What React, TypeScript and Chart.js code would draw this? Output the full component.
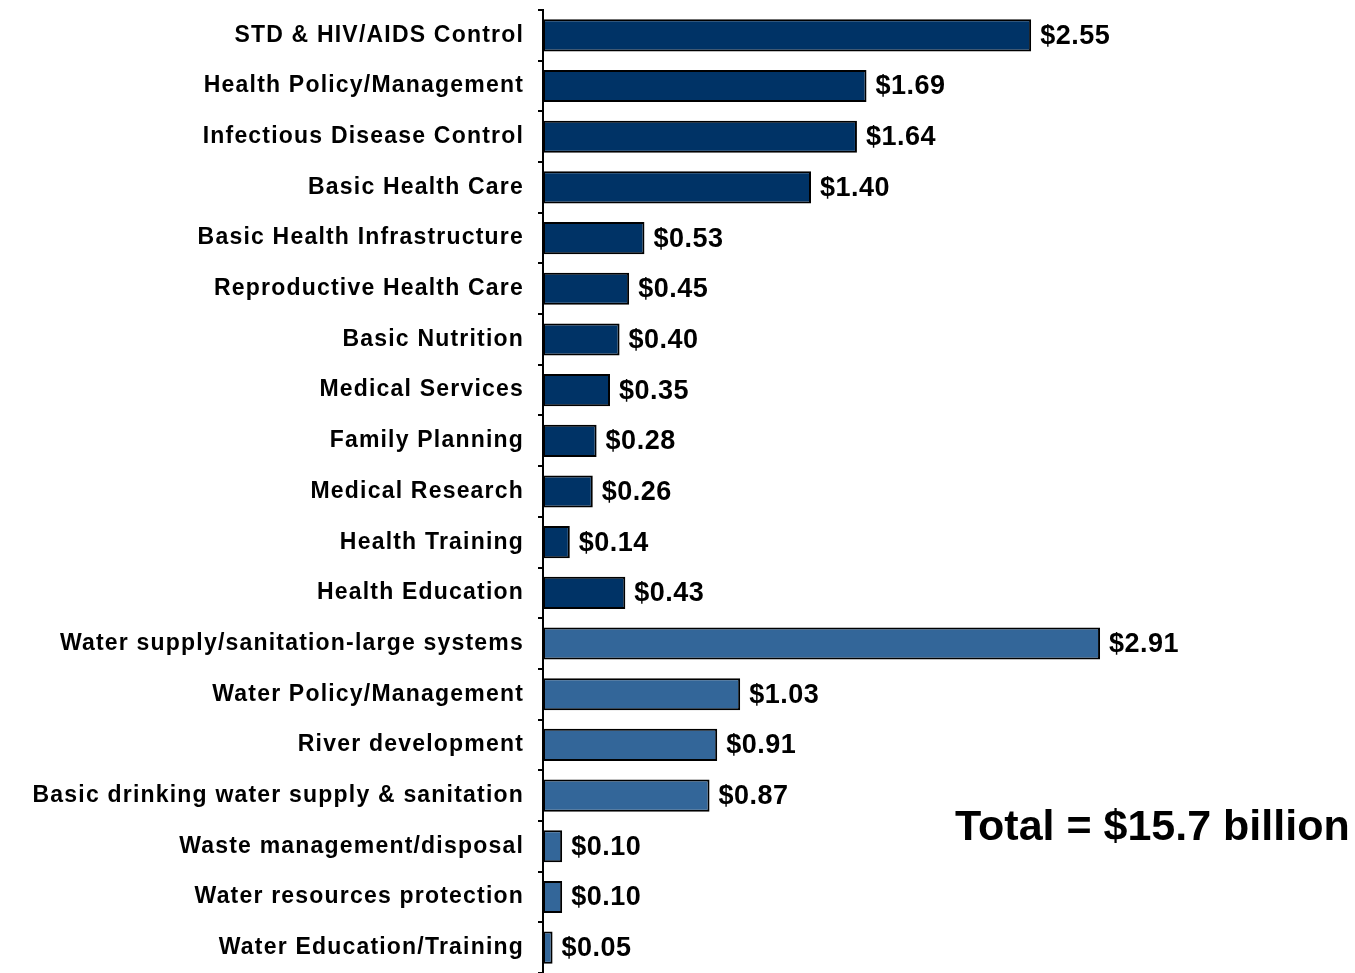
import React, { useEffect, useRef } from "react";
import { Chart, registerables } from "chart.js";

Chart.register(...registerables);

const healthCategories = [
  "STD & HIV/AIDS Control",
  "Health Policy/Management",
  "Infectious Disease Control",
  "Basic Health Care",
  "Basic Health Infrastructure",
  "Reproductive Health Care",
  "Basic Nutrition",
  "Medical Services",
  "Family Planning",
  "Medical Research",
  "Health Training",
  "Health Education",
];
const healthValues = [2.55, 1.69, 1.64, 1.4, 0.53, 0.45, 0.4, 0.35, 0.28, 0.26, 0.14, 0.43];

const waterCategories = [
  "Water supply/sanitation-large systems",
  "Water Policy/Management",
  "River development",
  "Basic drinking water supply & sanitation",
  "Waste management/disposal",
  "Water resources protection",
  "Water Education/Training",
];
const waterValues = [2.91, 1.03, 0.91, 0.87, 0.1, 0.1, 0.05];

const totalLabel = "Total = $15.7 billion";

const HEALTH_COLOR = "#003366";
const WATER_COLOR = "#336699";
const FONT = '"Liberation Sans", Arial, Helvetica, sans-serif';

export default function App() {
  const canvasRef = useRef<HTMLCanvasElement | null>(null);

  useEffect(() => {
    const canvas = canvasRef.current;
    if (!canvas) return;

    const labels = [...healthCategories, ...waterCategories];
    const values = [...healthValues, ...waterValues];
    const colors = [
      ...healthValues.map(() => HEALTH_COLOR),
      ...waterValues.map(() => WATER_COLOR),
    ];

    const spacingPlugin = {
      id: "spacing",
      beforeDraw(chart: any) {
        (chart.ctx as any).letterSpacing = "1.2px";
      },
    };

    const valuePlugin = {
      id: "valueLabels",
      afterDraw(chart: any) {
        const ctx = chart.ctx;
        const meta = chart.getDatasetMeta(0);
        ctx.save();
        (ctx as any).letterSpacing = "0.5px";
        ctx.font = `bold 27px ${FONT}`;
        ctx.fillStyle = "#000";
        ctx.textAlign = "left";
        ctx.textBaseline = "middle";
        meta.data.forEach((bar: any, i: number) => {
          ctx.fillText("$" + values[i].toFixed(2), bar.x + 9, bar.y + 1);
        });
        (ctx as any).letterSpacing = "0px";
        ctx.font = `bold 43px ${FONT}`;
        ctx.fillText(totalLabel, 955, 828);
        ctx.restore();
      },
    };

    const chart = new Chart(canvas, {
      type: "bar",
      data: {
        labels,
        datasets: [
          {
            data: values,
            backgroundColor: colors,
            borderColor: "#000",
            borderWidth: 2,
            borderSkipped: false,
            barPercentage: 0.634,
            categoryPercentage: 1,
          },
        ],
      },
      options: {
        indexAxis: "y",
        animation: false,
        responsive: true,
        maintainAspectRatio: false,
        layout: { padding: { top: 10, bottom: 0, left: 0, right: 8 } },
        plugins: {
          legend: { display: false },
          tooltip: { enabled: false },
        },
        scales: {
          x: {
            display: false,
            min: 0,
            max: 4.2,
          },
          y: {
            afterFit(scale: any) {
              scale.width = 543;
              scale.paddingTop = 0;
              scale.paddingBottom = 0;
            },
            border: { display: true, color: "#000", width: 2 },
            grid: {
              display: true,
              drawOnChartArea: false,
              drawTicks: true,
              tickLength: 5,
              color: "#000",
              lineWidth: 2,
              offset: true,
            },
            ticks: {
              autoSkip: false,
              color: "#000",
              padding: 14,
              font: { family: FONT, size: 23, weight: "bold" },
            },
          },
        },
      },
      plugins: [spacingPlugin, valuePlugin],
    });

    return () => chart.destroy();
  }, []);

  return (
    <div style={{ position: "fixed", left: 0, top: 0, width: 1355, height: 973, background: "#fff" }}>
      <canvas ref={canvasRef} />
    </div>
  );
}
